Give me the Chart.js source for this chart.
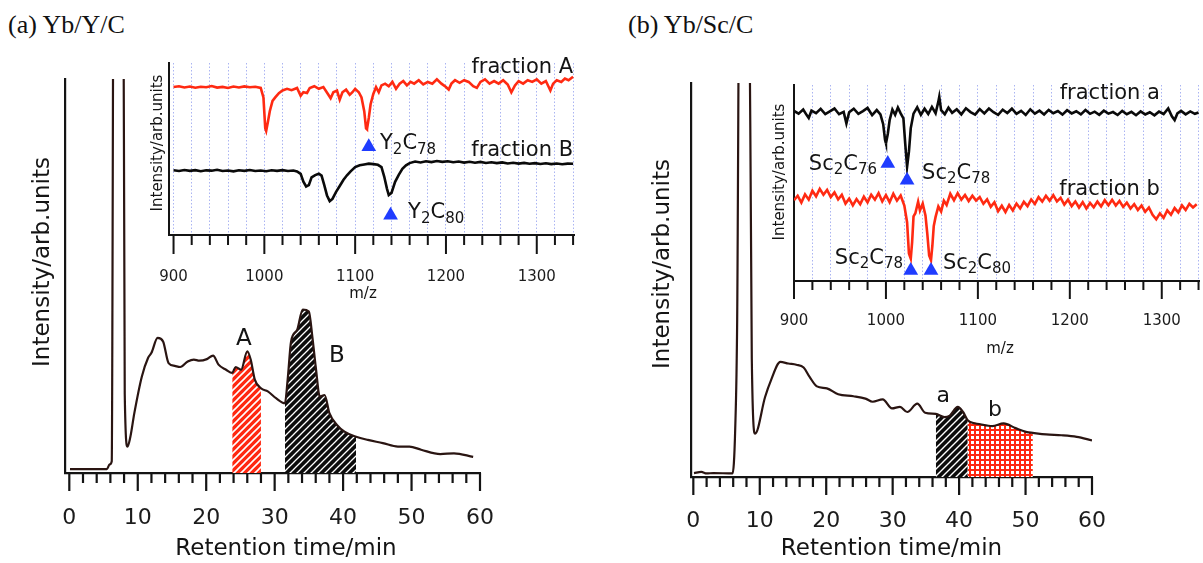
<!DOCTYPE html>
<html>
<head>
<meta charset="utf-8">
<script src="https://cdn.jsdelivr.net/npm/chart.js@4.4.1/dist/chart.umd.min.js"></script>
<style>
  body { margin: 0; background: #fff; }
  #wrap { position: relative; width: 1203px; height: 563px; overflow: hidden; background: #fff; }
  canvas { position: absolute; }
  .head { position: absolute; font-family: "Liberation Serif", serif; font-size: 26px; line-height: 26px; color: #111; white-space: nowrap; }
</style>
</head>
<body>
<div id="wrap">
  <div class="head" style="left:8px;top:12px">(a) Yb/Y/C</div>
  <div class="head" style="left:628px;top:12px">(b) Yb/Sc/C</div>
  <canvas id="mainA" width="600" height="563" style="left:0;top:0"></canvas>
  <canvas id="mainB" width="603" height="563" style="left:600px;top:0"></canvas>
  <canvas id="insetA" width="450" height="270" style="left:140px;top:40px"></canvas>
  <canvas id="insetB" width="443" height="310" style="left:760px;top:60px"></canvas>
</div>
<script>
// --- chromatogram (a) Yb/Y/C : retention time (min) / intensity
const timeA = [0.1, 5.5, 5.9, 6.2, 6.5, 7.85, 8.1, 8.5, 8.9, 9.5, 10.6, 11.5, 12, 12.9, 13.7, 14.5, 15.4, 16.2, 17.3, 18.2, 19, 20.1, 21, 21.8, 22.9, 23.8, 24.3, 25.1, 26, 26.5, 27.1, 28, 29, 30.2, 31.5, 31.9, 32.4, 33.3, 34.1, 35, 35.5, 36, 36.6, 37.3, 38, 39.1, 40.2, 41.9, 43.6, 45.8, 48, 49.7, 51.4, 54.2, 56.2, 59];
const intensityA = [1.0, 1.0, 2.2, 3, 150, 150, 20, 6.7, 9, 15.2, 24.5, 29.2, 30.5, 34.3, 33.4, 27.9, 27.2, 26.9, 28.3, 28.8, 28.5, 28.9, 29.8, 27.5, 26.2, 25.4, 26.9, 26.2, 30.9, 28.8, 23.7, 21.5, 20.7, 19, 17.7, 23.7, 33.4, 36.4, 41.5, 41, 34.7, 27, 19.4, 19.8, 15.2, 12.2, 10.5, 9.2, 8.4, 7.6, 6.7, 6.7, 5.9, 4.8, 5, 4.1];
const fractionsA = { A: [23.8, 28.0], B: [31.5, 41.9] };

// --- chromatogram (b) Yb/Sc/C
const timeB = [0.1, 1.2, 2.0, 3.0, 5.9, 6.3, 6.6, 7.0, 8.3, 8.8, 9.3, 10.8, 11.7, 13.1, 14.3, 15.5, 16.6, 17.5, 18.6, 20.1, 21.8, 24.1, 25.9, 27, 28.5, 29.9, 31.1, 32.2, 33.7, 34.9, 36.5, 37.8, 38.6, 39.8, 40.6, 41.3, 43.2, 45, 46.7, 48.5, 50.2, 51.1, 53.1, 55.4, 57.7, 60];
const intensityB = [1.0, 1.3, 0.9, 1.0, 0.9, 12, 40, 150, 150, 30, 11.0, 20.3, 24.6, 29.2, 28.8, 28.5, 27.8, 25.4, 23, 22.5, 21, 20.5, 19.9, 19.1, 19.7, 17.4, 17.8, 16.5, 18.6, 16.3, 16.0, 15.2, 15.6, 17.8, 16.5, 14.4, 13.4, 12.9, 13.6, 12.4, 11.4, 11.2, 10.8, 10.6, 10.2, 9.3];
const fractionsB = { a: [36.5, 41.3], b: [41.3, 51.1] };

const timeTicks = [0, 10, 20, 30, 40, 50, 60];
const mzTicks = [900, 1000, 1100, 1200, 1300];

// --- mass spectra, inset (a): fraction A (red) and fraction B (black)
const mzFracA = [900,906,912,918,924,930,936,942,948,954,960,966,972,978,984,990,996,999,1001,1002,1004,1006,1009,1012,1016,1020,1025,1030,1036,1040,1043,1047,1050,1055,1060,1065,1070,1073,1076,1080,1083,1086,1090,1094,1097,1100,1104,1107,1110,1112,1113,1115,1117,1120,1123,1126,1129,1133,1137,1141,1145,1149,1153,1157,1161,1165,1170,1175,1180,1185,1190,1195,1200,1203,1206,1210,1215,1220,1225,1230,1234,1238,1243,1248,1253,1258,1263,1268,1272,1276,1280,1285,1290,1295,1300,1305,1310,1315,1318,1322,1327,1331,1335,1340];
const intFracA = [86,86.5,85.8,86.3,85.6,86.2,85.9,86.6,85.7,86.1,85.5,86.3,85.8,86.4,85.9,86.2,85.5,80,62,60.5,66,72,78,80,82.5,84,85,84.2,85.5,81,83,82.6,85.5,86.5,85,86,82,79.5,83,84,78.7,83,84.5,81.5,83,85,83,80,72,62,61.5,68,76,82,86,83,87,88,86.5,89,85,88,89.5,87,89,88,90,87.5,89,88,90.5,88,86,84.5,88,90,88.5,90,89,86.5,85.5,89,90.5,88,89.5,88,90,87.5,83,87,89.5,88,90,89,90.5,88,89.5,84,88,90,89,91,90,92];
const mzFracB = [900,906,912,918,924,930,936,942,948,954,960,966,972,978,984,990,996,1002,1008,1014,1020,1026,1032,1036,1040,1043,1046,1049,1052,1056,1060,1063,1066,1069,1072,1075,1079,1083,1087,1091,1095,1100,1105,1110,1115,1120,1125,1129,1132,1135,1137,1140,1144,1148,1152,1156,1160,1166,1172,1178,1184,1190,1196,1202,1208,1214,1220,1226,1232,1238,1244,1250,1256,1262,1268,1274,1280,1286,1292,1298,1304,1310,1316,1322,1328,1334,1340];
const intFracB = [37.6,37.2,37.8,37.3,37.7,37.1,37.6,37.4,37.9,37.2,37.5,37.0,37.6,37.3,37.8,37.2,37.5,37.1,37.6,37.3,37.7,37.2,37.5,37.0,35.5,31,28.2,29,33.5,34.8,35.6,34.5,29,23,19.7,21,25.1,28.5,32,34.7,37,39.5,40.5,41,41.5,41.2,40.8,39.5,34,27,23.2,24.5,30.9,35,38.5,40.5,41.8,42.7,42.2,42.9,42.4,43.0,42.5,42.9,42.3,42.7,42.1,42.6,42.0,42.5,41.9,42.3,41.8,42.2,41.6,42.0,41.5,41.9,41.4,41.8,41.3,41.7,41.2,41.6,41.1,41.5,41.4];
const markMzA = [1115, 1139];
const markIntA = [51.3, 11.5];

// --- mass spectra, inset (b): fraction a (black) and fraction b (red)
const mzFraca = [900,905,910,914,916,919,924,929,934,939,944,949,954,957,960,965,970,975,980,985,990,994,997,999,1000,1002,1004,1007,1010,1013,1016,1019,1021,1023,1025,1027,1030,1034,1038,1042,1046,1050,1054,1057,1058,1060,1064,1068,1072,1077,1082,1087,1092,1097,1102,1107,1112,1117,1122,1127,1132,1137,1142,1147,1152,1157,1162,1167,1172,1177,1182,1187,1192,1197,1202,1207,1212,1217,1222,1227,1232,1237,1242,1247,1252,1257,1262,1267,1272,1277,1282,1287,1292,1297,1302,1307,1311,1314,1317,1321,1326,1331,1336,1340];
const intFraca = [86.8,85.4,87.5,84.5,83.2,86.9,85.6,87.8,85.2,86.6,88.0,85.1,86.3,80.4,86.1,87.9,85.3,86.7,88.3,84.6,87.2,85.0,80,72,70.2,75,82,87.5,84.8,88.5,85.5,83,70,58.3,66,78,85.4,88.6,84.8,87.9,85.2,88.8,85.6,91.5,94,87.2,85.1,88.4,85.8,87.6,85.0,88.1,86.2,84.9,87.7,85.5,88.0,86.1,84.8,87.4,85.7,87.9,85.3,86.8,84.7,87.6,85.4,86.9,85.0,87.3,85.6,86.7,84.9,87.1,85.5,86.6,85.0,87.2,85.3,86.4,84.8,86.9,85.4,86.2,84.7,86.8,85.1,86.3,84.6,86.5,85.0,86.1,84.5,86.4,85.2,88.0,84.0,82.1,85.5,86.8,85.0,86.5,85.3,86.0];
const mzFracb = [900,904,908,912,916,920,924,928,932,936,940,944,948,952,956,960,964,968,972,976,980,984,988,992,996,1000,1004,1008,1012,1016,1020,1023,1025,1027,1028.5,1030,1032,1035,1037,1040,1043,1045,1047,1049,1050.5,1052,1054,1057,1060,1063,1066,1070,1074,1078,1082,1086,1090,1094,1098,1102,1106,1110,1114,1118,1122,1126,1130,1134,1138,1142,1146,1150,1154,1158,1162,1166,1170,1174,1178,1182,1186,1190,1194,1198,1202,1206,1210,1214,1218,1222,1226,1230,1234,1238,1242,1246,1250,1254,1258,1262,1266,1270,1274,1278,1282,1286,1290,1294,1298,1302,1306,1310,1314,1318,1322,1326,1330,1334,1338];
const intFracb = [41.2,43.5,40.0,44.2,41.5,46.0,43.2,47.0,44.0,46.5,42.8,45.2,41.6,44.0,39.5,42.0,38.6,41.8,39.2,43.0,40.1,44.0,41.5,44.8,40.6,43.8,40.2,44.5,41.0,43.6,38.5,30,14,11.4,20,33,34.6,40.5,36.0,39.5,33.5,24,13,10.6,18,28,32.7,38.0,35.5,41.0,38.8,44.5,41.2,44.8,41.5,43.9,40.8,43.5,41.0,42.8,39.4,41.6,37.8,40.2,35.6,38.4,35.2,38.8,36.0,39.5,37.0,40.4,38.2,41.6,39.3,42.8,40.5,43.5,41.0,43.8,40.6,42.4,39.0,41.5,38.2,40.6,37.5,40.2,37.0,39.8,37.6,40.5,38.0,41.2,38.6,41.4,38.5,40.8,37.8,40.0,37.0,39.2,36.2,38.5,35.3,37.5,33.8,31.5,34.5,32.2,36.0,33.8,37.2,35.0,38.6,36.2,39.4,37.5,39.2];
const markMzB = [1002, 1023, 1027, 1049];
const markIntB = [59.9, 51.4, 5.4, 5.4];

const FONT = '"DejaVu Sans", sans-serif';
const INK = '#141414';
const TRACE = '#2a1512';
const RED = '#ff2a12';
const BLUE = '#1f3cff';

function xy(xs, ys) {
  const n = Math.min(xs.length, ys.length);
  const out = [];
  for (let i = 0; i < n; i++) out.push({ x: xs[i], y: ys[i] });
  return out;
}
function between(xs, ys, range) {
  return xy(xs, ys).filter(p => p.x >= range[0] && p.x <= range[1]);
}

function hatch(color, lw) {
  const c = document.createElement('canvas');
  c.width = c.height = 7;
  const g = c.getContext('2d');
  g.fillStyle = color; g.fillRect(0, 0, 7, 7);
  g.strokeStyle = '#fff'; g.lineWidth = lw;
  g.beginPath();
  g.moveTo(-1, 8); g.lineTo(8, -1);
  g.moveTo(-2, 2); g.lineTo(2, -2);
  g.moveTo(5, 9); g.lineTo(9, 5);
  g.stroke();
  return g.createPattern(c, 'repeat');
}
function checker(color) {
  const c = document.createElement('canvas');
  c.width = c.height = 5;
  const g = c.getContext('2d');
  g.fillStyle = color; g.fillRect(0, 0, 5, 5);
  g.fillStyle = '#fff'; g.fillRect(1, 1, 3, 3);
  return g.createPattern(c, 'repeat');
}

function drawParts(ctx, parts, x, y, size, align, color) {
  const sub = Math.round(size * 0.72);
  let w = 0;
  parts.forEach(p => { ctx.font = (p[1] ? sub : size) + 'px ' + FONT; w += ctx.measureText(p[0]).width; });
  let cx = align === 'right' ? x - w : (align === 'center' ? x - w / 2 : x);
  ctx.fillStyle = color || INK;
  ctx.textAlign = 'left';
  ctx.textBaseline = 'middle';
  parts.forEach(p => {
    ctx.font = (p[1] ? sub : size) + 'px ' + FONT;
    ctx.fillText(p[0], cx, p[1] ? y + size * 0.34 : y + 1);
    cx += ctx.measureText(p[0]).width;
  });
}

// tick marks (long majors, short minors), free axis titles and text labels
const decor = {
  id: 'decor',
  afterDraw(chart, args, o) {
    const { ctx } = chart;
    const xs = chart.scales.x, ys = chart.scales.y;
    ctx.save();
    ctx.strokeStyle = INK;
    ctx.lineWidth = o.tickWidth;
    ctx.beginPath();
    for (let i = 0; ; i++) {
      const v = o.tickStart + i * o.tickStep;
      if (v > xs.max + 1e-6) break;
      const px = xs.getPixelForValue(v);
      const major = Math.abs(v / o.majorStep - Math.round(v / o.majorStep)) < 1e-6;
      ctx.moveTo(px, xs.top);
      ctx.lineTo(px, xs.top + (major ? o.majorLen : o.minorLen));
    }
    ctx.stroke();
    (o.titles || []).forEach(t => {
      ctx.save();
      ctx.translate(t.x, t.y);
      if (t.rotate) ctx.rotate(-Math.PI / 2);
      ctx.font = t.size + 'px ' + FONT;
      ctx.fillStyle = INK;
      ctx.textAlign = 'center';
      ctx.textBaseline = 'middle';
      ctx.fillText(t.text, 0, 1);
      ctx.restore();
    });
    (o.labels || []).forEach(l => {
      drawParts(ctx, l.parts, xs.getPixelForValue(l.x), ys.getPixelForValue(l.y), l.size, l.align, l.color);
    });
    ctx.restore();
  }
};

// label offset comes from an invisible tick mark so that it does not widen the layout padding
function baseScales(o) {
  const grid = Object.assign({
    display: true, drawOnChartArea: false, drawTicks: true,
    tickLength: o.gap, tickColor: 'rgba(0,0,0,0)', color: 'rgba(0,0,0,0)'
  }, o.grid || {});
  return {
    x: {
      type: 'linear', min: o.xmin, max: o.xmax,
      afterFit(s) { s.height = o.xh; },
      afterBuildTicks(s) { s.ticks = o.ticks.map(v => ({ value: v })); },
      grid: grid,
      border: { display: true, width: o.bw, color: INK, dash: o.dash || [] },
      ticks: {
        autoSkip: false, maxRotation: 0, minRotation: 0, padding: 2, color: '#1c1c1c',
        font: { family: FONT, size: o.fs },
        callback: v => (o.labelEvery ? (v % o.labelEvery === 0 ? v : '') : v)
      }
    },
    y: {
      type: 'linear', min: 0, max: 100,
      afterFit(s) { s.width = o.yw; },
      grid: { display: false, drawTicks: false },
      border: { display: true, width: o.bw, color: INK },
      ticks: { display: false }
    }
  };
}

function mainChart(id, t, v, fills, geo, decorOpts) {
  const sets = [{
    data: xy(t, v), borderColor: TRACE, borderWidth: 2.2, pointRadius: 0,
    fill: false, order: 0, cubicInterpolationMode: 'monotone'
  }];
  fills.forEach(f => sets.push({
    data: between(t, v, f.range), borderWidth: 0, pointRadius: 0,
    fill: 'origin', backgroundColor: f.pattern, order: 1, cubicInterpolationMode: 'monotone'
  }));
  return new Chart(document.getElementById(id), {
    type: 'line',
    data: { datasets: sets },
    options: {
      responsive: false, animation: false, events: [],
      layout: { autoPadding: false, padding: geo.padding },
      plugins: { legend: { display: false }, tooltip: { enabled: false }, decor: decorOpts },
      scales: baseScales(geo)
    },
    plugins: [decor]
  });
}

function insetChart(id, traces, marks, geo, decorOpts) {
  const sets = traces.map(tr => ({
    data: xy(tr.mz, tr.int), borderColor: tr.color, borderWidth: 2.6,
    pointRadius: 0, fill: false, order: 1
  }));
  sets.unshift({
    type: 'scatter', data: xy(marks.mz, marks.int), pointStyle: 'triangle',
    pointRadius: 8.5, hoverRadius: 0, backgroundColor: BLUE, borderWidth: 0, order: 0
  });
  return new Chart(document.getElementById(id), {
    type: 'line',
    data: { datasets: sets },
    options: {
      responsive: false, animation: false, events: [],
      layout: { autoPadding: false, padding: geo.padding },
      plugins: { legend: { display: false }, tooltip: { enabled: false }, decor: decorOpts },
      scales: baseScales(geo)
    },
    plugins: [decor]
  });
}

const minorMz = [];
for (let i = 0; i <= 22; i++) minorMz.push(900 + i * 20);
const insetGrid = { drawOnChartArea: true, color: '#aab4f2', lineWidth: 1 };

// (a) main
mainChart('mainA', timeA, intensityA, [
  { range: fractionsA.A, pattern: hatch('#ff2810', 1.6) },
  { range: fractionsA.B, pattern: hatch('#0c0c0c', 1.3) }
], {
  padding: { left: 0, top: 79, right: 120, bottom: 0 },
  xmin: -0.63, xmax: 60, xh: 90, yw: 65, bw: 2.2, gap: 30, fs: 22, ticks: timeTicks
}, {
  tickStart: 0, tickStep: 2, majorStep: 10, majorLen: 18, minorLen: 10, tickWidth: 2.2,
  titles: [
    { text: 'Intensity/arb.units', x: 42, y: 262, size: 23, rotate: true },
    { text: 'Retention time/min', x: 286, y: 548, size: 23 }
  ],
  labels: [
    { parts: [['A', 0]], x: 25.5, y: 34.2, size: 23, align: 'center' },
    { parts: [['B', 0]], x: 39.1, y: 30, size: 23, align: 'center' }
  ]
});

// (b) main
mainChart('mainB', timeB, intensityB, [
  { range: fractionsB.a, pattern: hatch('#0c0c0c', 1.4) },
  { range: fractionsB.b, pattern: checker('#ff2810') }
], {
  padding: { left: 0, top: 83, right: 111, bottom: 0 },
  xmin: -0.35, xmax: 60, xh: 86, yw: 91, bw: 2.2, gap: 29.5, fs: 22, ticks: timeTicks
}, {
  tickStart: 0, tickStep: 2, majorStep: 10, majorLen: 18, minorLen: 10, tickWidth: 2.2,
  titles: [
    { text: 'Intensity/arb.units', x: 62, y: 264, size: 23, rotate: true },
    { text: 'Retention time/min', x: 291.5, y: 548, size: 23 }
  ],
  labels: [
    { parts: [['a', 0]], x: 37.6, y: 20.8, size: 22, align: 'center' },
    { parts: [['b', 0]], x: 45.4, y: 17.1, size: 22, align: 'center' }
  ]
});

// (a) inset
insetChart('insetA', [
  { mz: mzFracA, int: intFracA, color: RED },
  { mz: mzFracB, int: intFracB, color: '#0a0a0a' }
], { mz: markMzA, int: markIntA }, {
  padding: { left: 0, top: 23, right: 16, bottom: 0 },
  xmin: 895, xmax: 1341, xh: 75, yw: 29, bw: 2, gap: 31.5, fs: 15,
  ticks: minorMz, labelEvery: 100, grid: insetGrid, dash: [1.5, 2]
}, {
  tickStart: 900, tickStep: 20, majorStep: 100, majorLen: 19, minorLen: 10, tickWidth: 2,
  titles: [
    { text: 'Intensity/arb.units', x: 17.5, y: 103, size: 15, rotate: true },
    { text: 'm/z', x: 223, y: 253, size: 15 }
  ],
  labels: [
    { parts: [['fraction A', 0]], x: 1340, y: 97.7, size: 21, align: 'right' },
    { parts: [['fraction B', 0]], x: 1340, y: 49.4, size: 21, align: 'right' },
    { parts: [['Y', 0], ['2', 1], ['C', 0], ['78', 1]], x: 1127.4, y: 53.5, size: 21, align: 'left' },
    { parts: [['Y', 0], ['2', 1], ['C', 0], ['80', 1]], x: 1158.3, y: 13.4, size: 21, align: 'left' }
  ]
});

// (b) inset
insetChart('insetB', [
  { mz: mzFraca, int: intFraca, color: '#0a0a0a' },
  { mz: mzFracb, int: intFracb, color: RED }
], { mz: markMzB, int: markIntB }, {
  padding: { left: 0, top: 25, right: 4, bottom: 0 },
  xmin: 900, xmax: 1340.5, xh: 89, yw: 34, bw: 2, gap: 29.5, fs: 15,
  ticks: minorMz, labelEvery: 100, grid: insetGrid, dash: [1.5, 2]
}, {
  tickStart: 900, tickStep: 20, majorStep: 100, majorLen: 18, minorLen: 9, tickWidth: 2,
  titles: [
    { text: 'Intensity/arb.units', x: 19, y: 112, size: 15, rotate: true },
    { text: 'm/z', x: 240, y: 288, size: 15 }
  ],
  labels: [
    { parts: [['fraction a', 0]], x: 1298, y: 95.9, size: 21, align: 'right' },
    { parts: [['fraction b', 0]], x: 1298, y: 47.4, size: 21, align: 'right' },
    { parts: [['Sc', 0], ['2', 1], ['C', 0], ['76', 1]], x: 990.3, y: 60.1, size: 21, align: 'right' },
    { parts: [['Sc', 0], ['2', 1], ['C', 0], ['78', 1]], x: 1039.3, y: 55.5, size: 21, align: 'left' },
    { parts: [['Sc', 0], ['2', 1], ['C', 0], ['78', 1]], x: 1018.6, y: 12.1, size: 21, align: 'right' },
    { parts: [['Sc', 0], ['2', 1], ['C', 0], ['80', 1]], x: 1062, y: 9.6, size: 21, align: 'left' }
  ]
});
</script>
</body>
</html>
